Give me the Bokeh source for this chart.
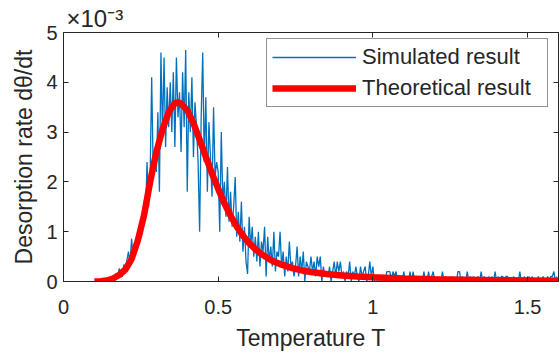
import numpy as np
from bokeh.plotting import figure
from bokeh.models import Range1d, LinearAxis, FixedTicker, Legend, LegendItem, ColumnDataSource, Title
from bokeh.embed import file_html
from bokeh.resources import INLINE

# ---------------- data (rates in units of 1e-3) ----------------
sim_T_start = 0.100
sim_T_step = 0.005
sim_rate = [
    0, 0, 0, 0, 0, 0, 0, 0, 0, 0,                                  # 0.100
    0, 0, 0.09, 0, 0.17, 0.09, 0.26, 0.17, 0.09, 0.34,             # 0.150
    0.26, 0.43, 0.6, 0.34, 0.86, 0.52, 0.77, 0.6, 1.0, 0.86,       # 0.200
    1.2, 0.95, 1.6, 1.3, 2.4, 1.5, 2.1, 4.1, 2.2, 2.5,             # 0.250
    2.2, 3.4, 1.8, 4.6, 2.9, 4.5, 2.7, 3.9, 3.1, 4.0,              # 0.300
    3.0, 4.2, 2.7, 4.5, 3.3, 3.8, 2.6, 4.2, 3.1, 4.65,             # 0.350
    1.8, 3.8, 3.0, 4.1, 2.5, 3.6, 3.1, 2.4, 1.0, 3.3,              # 0.400
    4.6, 2.4, 3.7, 1.8, 3.2, 2.5, 1.7, 3.5, 2.1, 2.4,              # 0.450
    2.2, 1.0, 3.0, 1.6, 2.0, 1.3, 2.3, 1.2, 1.8, 1.1,              # 0.500
    1.5, 2.1, 0.9, 1.4, 0.8, 1.6, 0.6, 1.1, 0.4, 0.15,             # 0.550
    1.3, 0.7, 1.1, 0.5, 0.9, 0.4, 1.0, 0.3, 0.8, 0.6,              # 0.600
    1.1, 0.1, 0.9, 0.4, 0.7, 0.3, 1.0, 0.2, 0.6, 0.5,              # 0.650
    1.0, 0.3, 0.6, 0.1, 0.5, 0.2, 0.8, 0.3, 0.4, 0.1,              # 0.700
    0.3, 0.7, 0.1, 0.5, 0.2, 0.6, 0.0, 0.4, 0.3, 0.2,              # 0.750
    0.5, 0.2, 0.4, 0.1, 0.5, 0.3, 0.5, 0.0, 0.3, 0.1,              # 0.800
    0.2, 0.1, 0.3, 0.0, 0.2, 0.4, 0.1, 0.4, 0.2, 0.4,              # 0.850
    0.1, 0.2, 0.0, 0.2, 0.1, 0.4, 0.0, 0.2, 0.1, 0.3,              # 0.900
    0.1, 0.0, 0.3, 0.1, 0.2, 0.3, 0.0, 0.1, 0.4, 0.1,              # 0.950
    0.3, 0.0, 0.1, 0.0, 0.1, 0.0, 0.0, 0.1, 0.0, 0.2,              # 1.000
    0.2, 0.2, 0.0, 0.2, 0.1, 0.2, 0.0, 0.0, 0.1, 0.0,              # 1.050
    0.2, 0.0, 0.1, 0.0, 0.2, 0.0, 0.2, 0.0, 0.0, 0.1,              # 1.100
    0.0, 0.0, 0.0, 0.2, 0.0, 0.0, 0.2, 0.0, 0.1, 0.2,              # 1.150
    0.0, 0.0, 0.0, 0.0, 0.0, 0.2, 0.0, 0.1, 0.0, 0.0,              # 1.200
    0.0, 0.1, 0.0, 0.0, 0.0, 0.2, 0.2, 0.0, 0.1, 0.0,              # 1.250
    0.0, 0.2, 0.0, 0.1, 0.0, 0.1, 0.0, 0.0, 0.1, 0.0,              # 1.300
    0.2, 0.0, 0.1, 0.0, 0.0, 0.1, 0.0, 0.1, 0.0, 0.2,              # 1.350
    0.0, 0.1, 0.0, 0.1, 0.1, 0.0, 0.1, 0.1, 0.0, 0.0,              # 1.400
    0.0, 0.1, 0.0, 0.0, 0.0, 0.2, 0.0, 0.0, 0.1, 0.0,              # 1.450
    0.0, 0.1, 0.0, 0.1, 0.0, 0.0, 0.0, 0.1, 0.0, 0.0,              # 1.500
    0.1, 0.0, 0.0, 0.1, 0.0, 0.1, 0.1, 0.2, 0.0, 0.1,              # 1.550
]
sim_T = [round(sim_T_start + i * sim_T_step, 4) for i in range(len(sim_rate))]

theo_T = [0.10, 0.12, 0.14, 0.16, 0.18, 0.20, 0.22, 0.24, 0.26, 0.28,
          0.30, 0.32, 0.34, 0.36, 0.37, 0.38, 0.40, 0.42, 0.44, 0.46,
          0.48, 0.50, 0.52, 0.54, 0.56, 0.58, 0.60, 0.62, 0.64, 0.66,
          0.68, 0.70, 0.72, 0.74, 0.76, 0.78, 0.80, 0.85, 0.90, 0.95,
          1.00, 1.10, 1.20, 1.30, 1.40, 1.50, 1.60]
theo_rate = [0.0, 0.005, 0.02, 0.06, 0.13, 0.24, 0.45, 0.82, 1.32, 2.0,
             2.6, 3.05, 3.4, 3.58, 3.6, 3.57, 3.44, 3.18, 2.85, 2.5,
             2.17, 1.86, 1.57, 1.32, 1.10, 0.92, 0.77, 0.65, 0.55, 0.47,
             0.40, 0.35, 0.31, 0.27, 0.24, 0.21, 0.19, 0.15, 0.12, 0.10,
             0.085, 0.06, 0.045, 0.035, 0.025, 0.02, 0.015]

x_ticks = [0, 0.5, 1, 1.5]
x_tick_labels = {0: "0", 0.5: "0.5", 1: "1", 1.5: "1.5"}
y_ticks = [0, 1, 2, 3, 4, 5]
multiplier_text = "\u00d710\u207b\u00b3"

# ---------------- styling ----------------
FONT = "Liberation Sans"
AX = "#262626"
BLUE = "#0072BD"
RED = "#FF0000"

p = figure(width=560, height=353, output_backend="svg", toolbar_location=None,
           x_range=Range1d(0, 1.6), y_range=Range1d(0, 5),
           min_border_left=63, min_border_right=2, min_border_top=32, min_border_bottom=71)
p.grid.visible = False
p.outline_line_color = AX
p.background_fill_color = "white"
p.border_fill_color = "white"

def style_axis(ax, ticks, show_labels):
    ax.ticker = FixedTicker(ticks=ticks)
    ax.axis_line_color = AX
    ax.major_tick_line_color = AX
    ax.major_tick_in = 5
    ax.major_tick_out = 0
    ax.minor_tick_line_color = None
    ax.major_label_text_font = FONT
    ax.major_label_text_color = AX
    ax.major_label_text_font_size = "20px"
    if not show_labels:
        ax.major_label_overrides = {t: "" for t in ticks}
        ax.major_label_standoff = 0

style_axis(p.xaxis[0], x_ticks, True)
p.xaxis[0].major_label_overrides = {k: v for k, v in x_tick_labels.items()}
p.xaxis[0].axis_label = "Temperature T"
p.xaxis[0].major_label_standoff = 18
style_axis(p.yaxis[0], y_ticks, True)
p.yaxis[0].axis_label = "Desorption rate d\u03b8/dt"
p.yaxis[0].major_label_standoff = 6
for ax in (p.xaxis[0], p.yaxis[0]):
    ax.axis_label_text_font = FONT
    ax.axis_label_text_font_style = "normal"
    ax.axis_label_text_color = AX
    ax.axis_label_text_font_size = "23px"
    ax.axis_label_standoff = 6
p.xaxis[0].axis_label_standoff = 8

top_ax = LinearAxis()
style_axis(top_ax, x_ticks, False)
p.add_layout(top_ax, "above")
right_ax = LinearAxis()
style_axis(right_ax, y_ticks, False)
p.add_layout(right_ax, "right")

# x10^-3 multiplier as a left-aligned title
mult = Title(text=multiplier_text, align="left", offset=3, standoff=2)
mult.text_font = FONT
mult.text_font_size = "24px"
mult.text_font_style = "normal"
mult.text_color = AX
p.add_layout(mult, "above")

src_sim = ColumnDataSource(dict(T=sim_T, r=sim_rate))
src_theo = ColumnDataSource(dict(T=theo_T, r=theo_rate))
r_sim = p.line("T", "r", source=src_sim, line_color=BLUE, line_width=1.3)
r_theo = p.line("T", "r", source=src_theo, line_color=RED, line_width=6.5)

legend = Legend(items=[LegendItem(label="Simulated result", renderers=[r_sim]),
                       LegendItem(label="Theoretical result", renderers=[r_theo])],
                location=(203, 174))
legend.label_text_font = FONT
legend.label_text_font_size = "22px"
legend.label_text_color = AX
legend.border_line_color = AX
legend.border_line_width = 1
legend.glyph_width = 84
legend.glyph_height = 26
legend.label_height = 26
legend.label_width = 180
legend.label_standoff = 6
legend.padding = 5
legend.spacing = 5
legend.margin = 0
legend.background_fill_alpha = 1
p.add_layout(legend)

open("out.html", "w").write(file_html(p, INLINE))
